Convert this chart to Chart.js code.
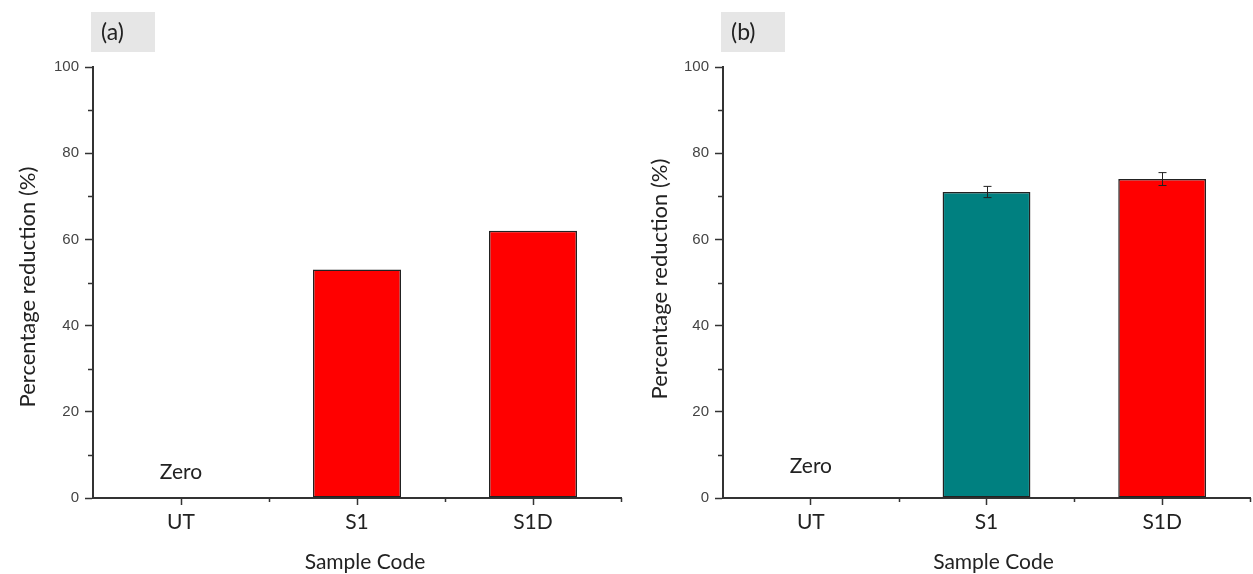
<!DOCTYPE html>
<html lang="en">
<head>
  <meta charset="UTF-8" />
  <title>Percentage reduction</title>
  <script src="https://cdn.jsdelivr.net/npm/chart.js"></script>
  <style>
    body {
      margin: 0;
      background: #fff;
      width: 1253px;
      height: 574px;
      overflow: hidden;
      position: relative;
    }
    .panel { position: absolute; top: 0; height: 574px; }
    #panelA { left: 0; width: 630px; }
    #panelB { left: 630px; width: 623px; }
  </style>
</head>
<body>
  <div class="panel" id="panelA"><canvas id="chartA"></canvas></div>
  <div class="panel" id="panelB"><canvas id="chartB"></canvas></div>

  <script>
    // data
    const categories = ['UT', 'S1', 'S1D'];
    const valuesA = [0, 53, 62];
    const valuesB = [0, 71, 74];
    const errorsA = [0, 0, 0];
    const errorsB = [0, 1.3, 1.5];
    const colorsA = ['#ff0000', '#ff0000', '#ff0000'];
    const colorsB = ['#008080', '#008080', '#ff0000'];
    const yTicks = [0, 20, 40, 60, 80, 100];
    const yMinorTicks = [10, 30, 50, 70, 90];
    const zeroLabel = 'Zero';
    const yTitle = 'Percentage reduction (%)';
    const xTitle = 'Sample Code';

    const textFont = 'Lato, "Open Sans", sans-serif';

    // extras: panel tag, minor ticks, error bars, "Zero" note, axis titles
    const decor = {
      id: 'decor',
      afterDatasetsDraw(chart, args, o) {
        const ctx = chart.ctx;
        const x = chart.scales.x, y = chart.scales.y;
        const y0 = y.getPixelForValue(0);
        ctx.save();

        // minor ticks
        ctx.strokeStyle = '#333';
        ctx.lineWidth = 1.5;
        ctx.beginPath();
        yMinorTicks.forEach(v => {
          const py = Math.round(y.getPixelForValue(v)) + 0.5;
          ctx.moveTo(x.left - 5, py);
          ctx.lineTo(x.left, py);
        });
        const n = categories.length;
        for (let i = 1; i <= n; i++) {
          const px = Math.round(x.left + i * x.width / n) + 0.5;
          ctx.moveTo(px, y0);
          ctx.lineTo(px, y0 + 4);
        }
        ctx.stroke();

        // error bars
        ctx.strokeStyle = '#222';
        ctx.lineWidth = 1;
        o.values.forEach((v, i) => {
          const e = o.errors[i];
          if (!e) return;
          const px = Math.round(x.getPixelForValue(i)) + 0.5;
          const t = y.getPixelForValue(v + e), b = y.getPixelForValue(v - e);
          ctx.beginPath();
          ctx.moveTo(px, t); ctx.lineTo(px, b);
          ctx.moveTo(px - 4, t); ctx.lineTo(px + 4, t);
          ctx.moveTo(px - 4, b); ctx.lineTo(px + 4, b);
          ctx.stroke();
        });

        // texts
        ctx.font = '21px ' + textFont;
        ctx.textAlign = 'center';
        ctx.textBaseline = 'middle';
        ctx.fillStyle = '#222';
        ctx.fillText(zeroLabel, x.getPixelForValue(0), y0 - o.zeroOffset);

        ctx.fillText(xTitle, (x.left + x.right) / 2 + o.xTitleDx, 562);

        ctx.save();
        ctx.font = '22px ' + textFont;
        ctx.translate(o.yTitleX, o.yTitleY);
        ctx.rotate(-Math.PI / 2);
        ctx.fillText(yTitle, 0, 0);
        ctx.restore();

        // panel tag
        ctx.fillStyle = '#e6e6e6';
        ctx.fillRect(x.left - 2, 12, 64, 40);
        ctx.fillStyle = '#222';
        ctx.textAlign = 'left';
        ctx.font = '23px ' + textFont;
        ctx.fillText(o.tag, x.left + 8, 33);

        ctx.restore();
      }
    };

    function makeChart(id, values, errors, colors, extra) {
      return new Chart(document.getElementById(id), {
        type: 'bar',
        data: {
          labels: categories,
          datasets: [{
            data: values,
            backgroundColor: colors,
            borderColor: '#222',
            borderWidth: 1.5,
            borderSkipped: false,
            barPercentage: 0.5,
            categoryPercentage: 1
          }]
        },
        options: {
          responsive: true,
          maintainAspectRatio: false,
          animation: false,
          layout: { padding: { top: 67, right: extra.padRight, left: 0, bottom: 0 } },
          plugins: {
            legend: { display: false },
            tooltip: { enabled: false },
            decor: Object.assign({ values: values, errors: errors }, extra)
          },
          scales: {
            x: {
              offset: true,
              grid: { offset: false, drawOnChartArea: false, tickLength: 7, tickColor: '#333', tickWidth: 1.5 },
              border: { color: '#333', width: 2 },
              ticks: { font: { family: textFont, size: 21 }, color: '#222', padding: 5 },
              afterFit(s) { s.height = 76; }
            },
            y: {
              min: 0,
              max: 100,
              afterBuildTicks(s) { s.ticks = yTicks.map(v => ({ value: v })); },
              grid: { drawOnChartArea: false, tickLength: 8, tickColor: '#333', tickWidth: 1.5 },
              border: { color: '#333', width: 2 },
              ticks: { font: { family: '"Liberation Sans", Arial, sans-serif', size: 15 }, color: '#444', padding: 6 },
              afterFit(s) { s.width = 93; }
            }
          }
        },
        plugins: [decor]
      });
    }

    makeChart('chartA', valuesA, errorsA, colorsA,
      { tag: '(a)', padRight: 9, zeroOffset: 26, xTitleDx: 8, yTitleX: 28, yTitleY: 287 });
    makeChart('chartB', valuesB, errorsB, colorsB,
      { tag: '(b)', padRight: 3, zeroOffset: 32, xTitleDx: 7, yTitleX: 30, yTitleY: 279 });
  </script>
</body>
</html>
